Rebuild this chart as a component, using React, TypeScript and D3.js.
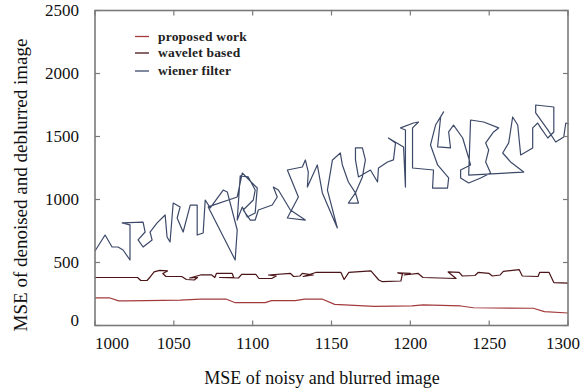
import * as d3 from "d3";

// x/y pairs (MSE of noisy image, MSE of restored image)
const proposedWork: [number, number][] = [
  [1000, 220], [1009, 220], [1015, 195], [1019, 195], [1032, 198], [1054, 202],
  [1067, 210], [1083, 210], [1089, 181], [1108, 181], [1112, 197], [1127, 197],
  [1133, 210], [1144, 210], [1152, 168], [1177, 152], [1201, 156], [1208, 163],
  [1232, 155], [1240, 141], [1278, 137], [1285, 110], [1300, 99],
];

const waveletBased: [number, number][] = [
  [1000, 381], [1027, 381], [1029, 357], [1033, 357], [1035, 385], [1037.5, 425],
  [1041, 437], [1046, 433], [1043, 413], [1045, 389], [1055, 389], [1058, 365],
  [1063, 361], [1065, 381], [1060, 377], [1067, 401], [1074, 401], [1076, 381],
  [1077, 413], [1087, 413], [1088, 381], [1079, 381], [1091, 377], [1093, 405],
  [1102, 405], [1104, 373], [1112, 373], [1115, 393], [1110, 401], [1124, 413],
  [1126, 389], [1130, 393], [1131.5, 413], [1138.5, 401], [1132, 389], [1140, 421],
  [1156, 421], [1158, 365], [1161, 421], [1175, 433], [1180, 361], [1182, 349],
  [1194, 353], [1195, 409], [1192, 417], [1200, 413], [1196, 401], [1205, 413],
  [1208, 381], [1229, 373], [1224, 425], [1231, 421], [1233, 393], [1241, 397],
  [1243, 421], [1250, 413], [1252, 393], [1257, 401], [1259, 429], [1269, 444],
  [1271, 393], [1281, 389], [1282, 421], [1288, 421], [1291, 341], [1300, 337],
];

const wienerFilter: [number, number][] = [
  [1000, 591], [1006.4, 718], [1010.8, 623], [1014.6, 623], [1017.8, 599], [1022.2, 520],
  [1022.2, 798], [1017.2, 814], [1030.5, 821], [1031.8, 742], [1027.3, 679], [1030.5, 623],
  [1036.2, 679], [1034.9, 742], [1039.4, 814], [1044.5, 877], [1045.7, 702], [1047.6, 663],
  [1049.6, 972], [1054, 941], [1052.1, 853], [1055.9, 742], [1060.4, 956], [1064.8, 956],
  [1064.8, 718], [1068.6, 734], [1069.9, 996], [1073.1, 933], [1081.3, 1075], [1083.9, 1060],
  [1090.2, 758], [1088.9, 520], [1071.8, 941], [1090.2, 1020], [1093.4, 1210], [1102.9, 1091],
  [1101.6, 893], [1096.6, 861], [1093.4, 941], [1090.2, 837], [1092.1, 1187], [1097.2, 1179],
  [1101.6, 1075], [1100.4, 996], [1094, 917], [1098.5, 837], [1101.6, 837], [1103.6, 917],
  [1112.4, 956], [1115.6, 1020], [1113.1, 1099], [1116.3, 1075], [1123.9, 917], [1133.4, 837],
  [1122, 853], [1129, 1020], [1122, 1234], [1131.5, 1258], [1133.4, 1314], [1135.3, 1218],
  [1134.7, 1099], [1141, 1274], [1144.2, 1052], [1153.7, 774], [1147.4, 1075], [1150.6, 1314],
  [1155.6, 1369], [1156.9, 1274], [1160.7, 1139], [1165.2, 1052], [1160.7, 972], [1167.1, 972],
  [1165.2, 1052], [1169.6, 1179], [1171.5, 1314], [1169.6, 1409], [1165.2, 1409], [1165.2, 1314],
  [1167.1, 1179], [1174.7, 1234], [1179.2, 1139], [1179.8, 1250], [1185.5, 1298], [1189.3, 1314],
  [1190.6, 1449], [1186.1, 1488], [1195.7, 1417], [1196.9, 1099], [1196.9, 1552], [1193.8, 1568],
  [1202, 1607], [1205.2, 1615], [1201.4, 1568], [1201.4, 1250], [1214.7, 1234], [1214.1, 1091],
  [1223.6, 1091], [1224.3, 1171], [1217.3, 1274], [1212.8, 1433], [1216, 1591], [1221.1, 1695],
  [1219.2, 1655], [1217.3, 1417], [1225.5, 1409], [1224.3, 1536], [1227.4, 1591], [1233.2, 1488],
  [1237, 1329], [1238.2, 1274], [1231.9, 1234], [1231.9, 1171], [1237, 1131], [1244.6, 1171],
  [1250.9, 1210], [1247.8, 1298], [1249.7, 1393], [1247.8, 1449], [1252.8, 1536], [1256, 1568],
  [1246.5, 1615], [1238.2, 1631], [1237, 1194], [1271.9, 1218], [1263.6, 1298], [1258.6, 1369],
  [1262.4, 1449], [1264.9, 1655], [1268.1, 1591], [1270, 1353], [1277.6, 1409], [1277.6, 1568],
  [1280.8, 1607], [1282.7, 1568], [1287.2, 1488], [1291, 1536], [1291, 1734], [1279.5, 1750],
  [1279.5, 1687], [1287.2, 1552], [1292.2, 1456], [1297.3, 1496], [1298.6, 1607], [1300.5, 1599],
];

const xTicks = [1000, 1050, 1100, 1150, 1200, 1250, 1300];
const yTicks = [0, 500, 1000, 1500, 2000, 2500];

const seriesNames = ["proposed work", "wavelet based", "wiener filter"];
const seriesColors = ["#a33b3d", "#4a1418", "#3c4968"];

const W = 581;
const H = 391;
const SERIF = "'Liberation Serif', 'Times New Roman', serif";

export default function App() {
  const x = d3.scaleLinear().domain([1000, 1300]).range([95, 568]);
  const y = d3.scaleLinear().domain([0, 2500]).range([325.5, 10.5]);

  const line = d3
    .line<[number, number]>()
    .x((d) => x(d[0]))
    .y((d) => y(d[1]));

  const all = [proposedWork, waveletBased, wienerFilter];
  const [x0, x1] = x.range();
  const [y0, y1] = y.range();
  const tick = 5;

  return (
    <svg
      width={W}
      height={H}
      style={{ position: "absolute", left: 0, top: 0, background: "#fff" }}
    >
      {/* series, wiener first so the lower lines sit on top */}
      {all
        .map((data, i) => (
          <path
            key={seriesNames[i]}
            d={line(data) ?? ""}
            fill="none"
            stroke={seriesColors[i]}
            strokeWidth={1.2}
            strokeLinejoin="round"
          />
        ))
        .reverse()}

      {/* frame */}
      <rect
        x={x0}
        y={y1}
        width={x1 - x0}
        height={y0 - y1}
        fill="none"
        stroke="#7a7a7a"
        strokeWidth={1.6}
      />
      {xTicks.map((t) => (
        <g key={"xt" + t} stroke="#7a7a7a" strokeWidth={1.2}>
          <line x1={x(t)} x2={x(t)} y1={y0} y2={y0 - tick} />
          <line x1={x(t)} x2={x(t)} y1={y1} y2={y1 + tick} />
        </g>
      ))}
      {yTicks.map((t) => (
        <g key={"yt" + t} stroke="#7a7a7a" strokeWidth={1.2}>
          <line x1={x0} x2={x0 + tick} y1={y(t)} y2={y(t)} />
          <line x1={x1} x2={x1 - tick} y1={y(t)} y2={y(t)} />
        </g>
      ))}

      {/* tick labels */}
      <g fontFamily={SERIF} fontSize={17} fill="#111">
        {xTicks.map((t, i) => (
          <text
            key={"xl" + t}
            x={x(t)}
            y={349}
            textAnchor={i === 0 ? "start" : "middle"}
            dx={i === xTicks.length - 1 ? -5 : 0}
          >
            {t}
          </text>
        ))}
        {yTicks.map((t) => (
          <text
            key={"yl" + t}
            x={79}
            y={y(t)}
            dy={t === 0 ? "0.05em" : "0.35em"}
            textAnchor="end"
          >
            {t}
          </text>
        ))}
      </g>

      {/* axis titles */}
      <text
        x={322}
        y={384}
        textAnchor="middle"
        fontFamily={SERIF}
        fontSize={18}
        fill="#111"
      >
        MSE of noisy and blurred image
      </text>
      <text
        transform="translate(27,185) rotate(-90)"
        textAnchor="middle"
        fontFamily={SERIF}
        fontSize={19}
        fill="#111"
      >
        MSE of denoised and deblurred image
      </text>

      {/* legend */}
      <g fontFamily={SERIF} fontSize={13.5} fontWeight="bold" fill="#222">
        {seriesNames.map((name, i) => {
          const ly = [36.5, 53, 71][i];
          return (
            <g key={"lg" + name}>
              <line
                x1={135}
                x2={149}
                y1={ly}
                y2={ly}
                stroke={seriesColors[i]}
                strokeWidth={1.3}
              />
              <text x={158} y={ly} dy="0.32em" letterSpacing={0.2}>
                {name}
              </text>
            </g>
          );
        })}
      </g>
    </svg>
  );
}
